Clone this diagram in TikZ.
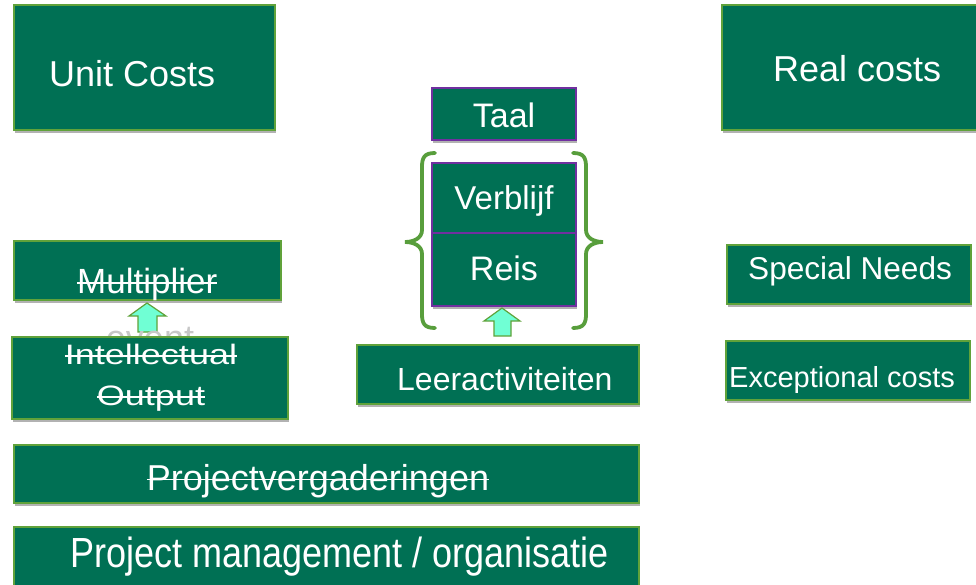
\documentclass[tikz,border=0pt]{standalone}
\usepackage{fontspec}
\setmainfont{Liberation Sans}
\usepackage{graphicx}
\usetikzlibrary{shadows}
\definecolor{boxfill}{RGB}{0,112,84}
\definecolor{edgegreen}{RGB}{96,162,58}
\definecolor{edgepurple}{RGB}{112,48,160}
\definecolor{arrowfill}{RGB}{112,255,212}
\definecolor{bracegreen}{RGB}{88,158,60}
\newsavebox{\strkbox}
\newcommand{\strk}[1]{\sbox{\strkbox}{#1}\rlap{\raisebox{0.5ex}{\rule{\wd\strkbox}{1.5pt}}}\usebox{\strkbox}}
\newcommand{\fsz}[1]{\fontsize{#1}{#1}\selectfont}
\begin{document}
\begin{tikzpicture}[x=1pt,y=-1pt,
 box/.style={draw=edgegreen, line width=1.5pt, fill=boxfill, inner sep=0pt,
   drop shadow={shadow xshift=1pt, shadow yshift=-3pt, opacity=0.3, fill=black}},
 pbox/.style={box, draw=edgepurple},
 lbl/.style={text=white, inner sep=0pt},
 uparrow/.style={draw=edgegreen, line width=1.2pt, fill=arrowfill, line join=miter},
 brace/.style={draw=bracegreen, line width=3.8pt, line cap=round}]
\useasboundingbox (0,0) rectangle (976,585);
\fill[white] (0,0) rectangle (976,585);
\clip (0,0) rectangle (976,585);

% boxes
\node[box, minimum width=261pt, minimum height=125pt] (unit) at (144.5,67.5) {};
\node[box, minimum width=258pt, minimum height=125pt] (real) at (851,67.5) {};
\node[pbox, minimum width=144pt, minimum height=52pt] (taal) at (504,114) {};
\node[pbox, minimum width=144pt, minimum height=70pt] (verblijf) at (504,198) {};
\node[pbox, minimum width=144pt, minimum height=73pt] (reis) at (504,269.5) {};
\node[box, minimum width=282pt, minimum height=59pt] (leer) at (498,374.5) {};
\node[box, minimum width=267pt, minimum height=59pt] (mult) at (147.5,270.5) {};
\node[box, minimum width=244pt, minimum height=59pt] (sn) at (849,274.5) {};
\node[box, minimum width=244pt, minimum height=59pt] (ec) at (848,370.5) {};
\node[box, minimum width=625pt, minimum height=58pt] (pv) at (326.5,474) {};
\node[box, minimum width=625pt, minimum height=63pt] (pm) at (326.5,558.5) {};

% braces
\draw[brace] (435,153) .. controls (424,153) and (422,158) .. (422,167)
  -- (422,230) .. controls (422,238) and (414,242) .. (405,242)
  .. controls (414,242) and (422,246) .. (422,254)
  -- (422,314) .. controls (422,323) and (424,328) .. (435,328);
\draw[brace] (573,153) .. controls (584,153) and (586,158) .. (586,167)
  -- (586,230) .. controls (586,238) and (594,242) .. (603,242)
  .. controls (594,242) and (586,246) .. (586,254)
  -- (586,314) .. controls (586,323) and (584,328) .. (573,328);

% block arrows
\draw[uparrow] (502,308) -- (520,321) -- (511,321) -- (511,336) -- (494,336) -- (494,321) -- (484,321) -- cycle;
\draw[uparrow] (147,303) -- (166,316) -- (157,316) -- (157,332) -- (138,332) -- (138,316) -- (129,316) -- cycle;

% "event" text, mostly hidden behind the Intellectual Output box
\node[text=black!22, inner sep=0pt, anchor=base, font=\fsz{36}] (eventT) at (150,350) {event};

\node[box, minimum width=276pt, minimum height=82pt] (io) at (150,378) {};

% labels
\node[lbl, anchor=base west, font=\fsz{36}] (unitT) at (49,87) {Unit Costs};
\node[lbl, anchor=base west, font=\fsz{36}] (realT) at (773,82) {Real costs};
\node[lbl, anchor=base, font=\fsz{34}] (taalT) at (504,128) {Taal};
\node[lbl, anchor=base, font=\fsz{33}] (verblijfT) at (504,210) {Verblijf};
\node[lbl, anchor=base, font=\fsz{34}] (reisT) at (504,280) {Reis};
\node[lbl, anchor=base west, font=\fsz{32}] (leerT) at (397,390) {Leeractiviteiten};
\node[lbl, anchor=base west, font=\fsz{35}] (multT) at (77,293) {\strk{Multiplier}};
\node[lbl, anchor=base, font=\fsz{36}] (ioT1) at (151,364) {\scalebox{1}[0.78]{\strk{Intellectual}}};
\node[lbl, anchor=base, font=\fsz{36}] (ioT2) at (151,405) {\scalebox{1}[0.78]{\strk{Output}}};
\node[lbl, anchor=base, font=\fsz{36}] (pvT) at (318,490) {\strk{Projectvergaderingen}};
\node[lbl, anchor=base west, font=\fsz{36}] (pmT) at (70,567) {\scalebox{1}[1.17]{Project management / organisatie}};
\node[lbl, anchor=base west, font=\fsz{31.6}] (snT) at (748,279) {Special Needs};
\node[lbl, anchor=base west, font=\fsz{29}] (ecT) at (729,387) {Exceptional costs};
\end{tikzpicture}
\end{document}
